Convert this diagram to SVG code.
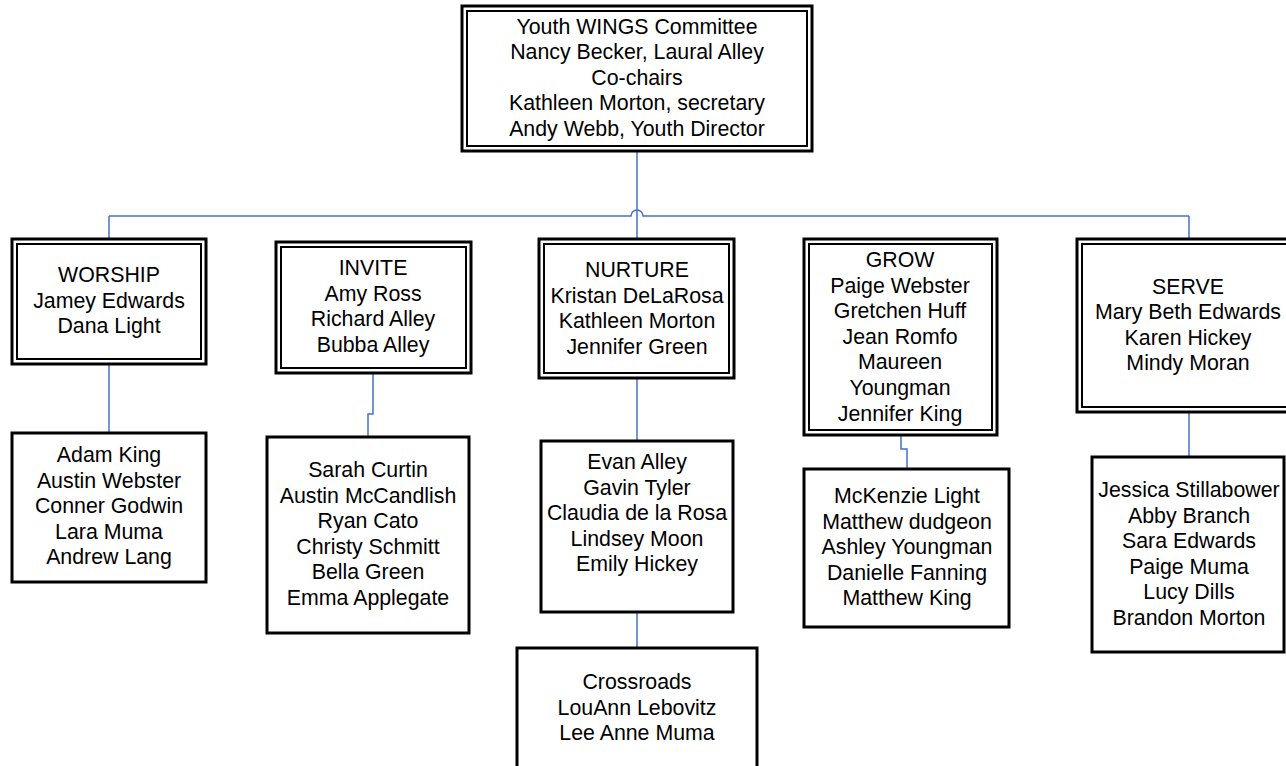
<svg xmlns="http://www.w3.org/2000/svg" width="1286" height="766" viewBox="0 0 1286 766">
<style>
.o{fill:#fff;stroke:#000;stroke-width:3}
.i{fill:none;stroke:#000;stroke-width:2}
.s{fill:#fff;stroke:#000;stroke-width:3}
.c{fill:none;stroke:#4472C4;stroke-width:1.5}
text{font-family:"Liberation Sans",Arial,sans-serif;font-size:21.33px;fill:#000;text-anchor:middle}
</style>
<rect width="1286" height="766" fill="#fff"/>
<g id="connectors">
<path class="c" d="M109 216 H631 A6 6 0 0 1 643 216 H1189"/>
<path class="c" d="M637 151 V240"/>
<path class="c" d="M109 216 V239"/>
<path class="c" d="M1189 216 V239"/>
<path class="c" d="M109 364 V433"/>
<path class="c" d="M373 373 V414 H368 V437"/>
<path class="c" d="M637 378 V441"/>
<path class="c" d="M637 612 V648"/>
<path class="c" d="M901 435 V449 H907 V469"/>
<path class="c" d="M1189 412 V457"/>
</g>
<g id="top">
<rect class="o" x="462" y="6" width="350" height="145"/>
<rect class="i" x="467" y="11" width="340" height="135"/>
<text x="637" y="33.5"><tspan x="637">Youth WINGS Committee</tspan><tspan x="637" dy="25.6">Nancy Becker, Laural Alley</tspan><tspan x="637" dy="25.6">Co-chairs</tspan><tspan x="637" dy="25.6">Kathleen Morton, secretary</tspan><tspan x="637" dy="25.6">Andy Webb, Youth Director</tspan></text>
</g>
<g id="worship">
<rect class="o" x="12" y="239" width="194" height="125"/>
<rect class="i" x="17" y="244" width="184" height="115"/>
<text x="109" y="282"><tspan x="109">WORSHIP</tspan><tspan x="109" dy="25.6">Jamey Edwards</tspan><tspan x="109" dy="25.6">Dana Light</tspan></text>
</g>
<g id="invite">
<rect class="o" x="276" y="242" width="195" height="131"/>
<rect class="i" x="281" y="247" width="185" height="121"/>
<text x="373" y="275"><tspan x="373">INVITE</tspan><tspan x="373" dy="25.6">Amy Ross</tspan><tspan x="373" dy="25.6">Richard Alley</tspan><tspan x="373" dy="25.6">Bubba Alley</tspan></text>
</g>
<g id="nurture">
<rect class="o" x="539" y="239" width="195" height="139"/>
<rect class="i" x="544" y="244" width="185" height="129"/>
<text x="637" y="277"><tspan x="637">NURTURE</tspan><tspan x="637" dy="25.6">Kristan DeLaRosa</tspan><tspan x="637" dy="25.6">Kathleen Morton</tspan><tspan x="637" dy="25.6">Jennifer Green</tspan></text>
</g>
<g id="grow">
<rect class="o" x="804" y="239" width="193" height="196"/>
<rect class="i" x="809" y="244" width="183" height="186"/>
<text x="900" y="267"><tspan x="900">GROW</tspan><tspan x="900" dy="25.6">Paige Webster</tspan><tspan x="900" dy="25.6">Gretchen Huff</tspan><tspan x="900" dy="25.6">Jean Romfo</tspan><tspan x="900" dy="25.6">Maureen</tspan><tspan x="900" dy="25.6">Youngman</tspan><tspan x="900" dy="25.6">Jennifer King</tspan></text>
</g>
<g id="serve">
<rect class="o" x="1077" y="239" width="222" height="173"/>
<rect class="i" x="1082" y="244" width="212" height="163"/>
<text x="1188" y="293.5"><tspan x="1188">SERVE</tspan><tspan x="1188" dy="25.6">Mary Beth Edwards</tspan><tspan x="1188" dy="25.6">Karen Hickey</tspan><tspan x="1188" dy="25.6">Mindy Moran</tspan></text>
</g>
<g id="worship-youth">
<rect class="s" x="12" y="433" width="194" height="149"/>
<text x="109" y="462"><tspan x="109">Adam King</tspan><tspan x="109" dy="25.6">Austin Webster</tspan><tspan x="109" dy="25.6">Conner Godwin</tspan><tspan x="109" dy="25.6">Lara Muma</tspan><tspan x="109" dy="25.6">Andrew Lang</tspan></text>
</g>
<g id="invite-youth">
<rect class="s" x="267" y="437" width="202" height="196"/>
<text x="368" y="477"><tspan x="368">Sarah Curtin</tspan><tspan x="368" dy="25.6">Austin McCandlish</tspan><tspan x="368" dy="25.6">Ryan Cato</tspan><tspan x="368" dy="25.6">Christy Schmitt</tspan><tspan x="368" dy="25.6">Bella Green</tspan><tspan x="368" dy="25.6">Emma Applegate</tspan></text>
</g>
<g id="nurture-youth">
<rect class="s" x="541" y="441" width="192" height="171"/>
<text x="637" y="469"><tspan x="637">Evan Alley</tspan><tspan x="637" dy="25.6">Gavin Tyler</tspan><tspan x="637" dy="25.6">Claudia de la Rosa</tspan><tspan x="637" dy="25.6">Lindsey Moon</tspan><tspan x="637" dy="25.6">Emily Hickey</tspan></text>
</g>
<g id="crossroads">
<rect class="s" x="517" y="648" width="240" height="130"/>
<text x="637" y="689"><tspan x="637">Crossroads</tspan><tspan x="637" dy="25.6">LouAnn Lebovitz</tspan><tspan x="637" dy="25.6">Lee Anne Muma</tspan></text>
</g>
<g id="grow-youth">
<rect class="s" x="804" y="469" width="205" height="158"/>
<text x="907" y="503"><tspan x="907">McKenzie Light</tspan><tspan x="907" dy="25.6">Matthew dudgeon</tspan><tspan x="907" dy="25.6">Ashley Youngman</tspan><tspan x="907" dy="25.6">Danielle Fanning</tspan><tspan x="907" dy="25.6">Matthew King</tspan></text>
</g>
<g id="serve-youth">
<rect class="s" x="1092" y="457" width="192" height="195"/>
<text x="1189" y="497"><tspan x="1189">Jessica Stillabower</tspan><tspan x="1189" dy="25.6">Abby Branch</tspan><tspan x="1189" dy="25.6">Sara Edwards</tspan><tspan x="1189" dy="25.6">Paige Muma</tspan><tspan x="1189" dy="25.6">Lucy Dills</tspan><tspan x="1189" dy="25.6">Brandon Morton</tspan></text>
</g>
</svg>
